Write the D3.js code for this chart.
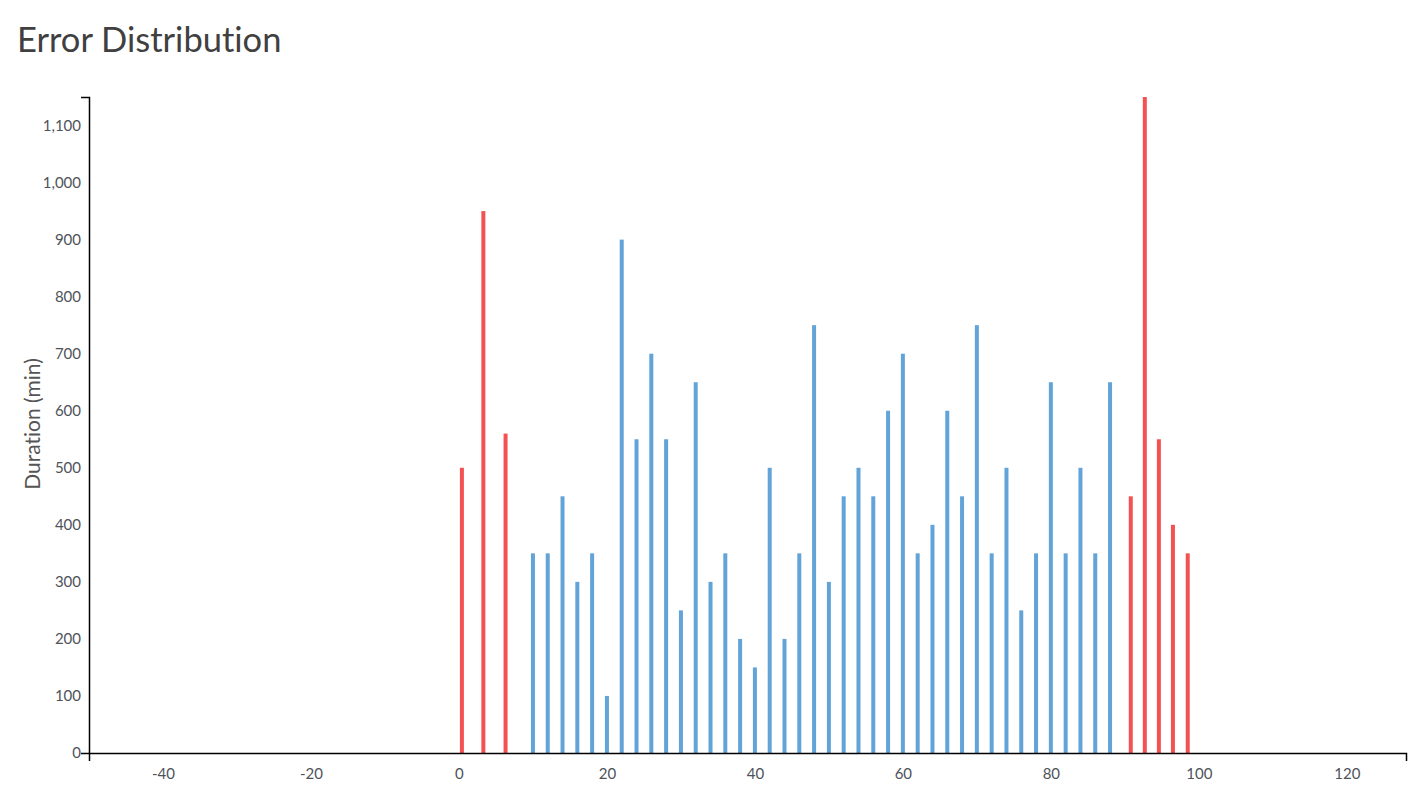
<!DOCTYPE html>
<html>
<head>
<meta charset="utf-8">
<script src="https://cdn.jsdelivr.net/npm/d3@7"></script>
<style>
  html, body { margin: 0; padding: 0; background: #fff; }
  svg { display: block; font-family: Lato, "Open Sans", sans-serif; font-variant-ligatures: none; }
</style>
</head>
<body>
<svg id="chart" width="1423" height="791"></svg>
<script>
// ---- data ----
const xTicks = [-40, -20, 0, 20, 40, 60, 80, 100, 120];
const yTicks = [0, 100, 200, 300, 400, 500, 600, 700, 800, 900, 1000, 1100];

const blueX = [10, 12, 14, 16, 18, 20, 22, 24, 26, 28, 30, 32, 34, 36, 38, 40, 42, 44, 46, 48,
               50, 52, 54, 56, 58, 60, 62, 64, 66, 68, 70, 72, 74, 76, 78, 80, 82, 84, 86, 88];
const blueY = [350, 350, 450, 300, 350, 100, 900, 550, 700, 550, 250, 650, 300, 350, 200, 150, 500, 200, 350, 750,
               300, 450, 500, 450, 600, 700, 350, 400, 600, 450, 750, 350, 500, 250, 350, 650, 350, 500, 350, 650];

const redX = [0.4, 3.3, 6.3, 90.8, 92.7, 94.6, 96.5, 98.5];
const redY = [500, 950, 560, 450, 1150, 550, 400, 350];

// ---- layout ----
const svg = d3.select("#chart");
const mLeft = 89, mRight = 1406, mTop = 97, mBottom = 753;

const x = d3.scaleLinear().domain([-50, 128]).range([mLeft, mRight]);
const y = d3.scaleLinear().domain([0, 1150]).range([mBottom, mTop]);

svg.append("text")
  .attr("x", 17).attr("y", 52)
  .attr("font-size", 34.5)
  .attr("fill", "#404040")
  .text("Error Distribution");

svg.append("text")
  .attr("transform", "translate(40," + 424 + ") rotate(-90)")
  .attr("text-anchor", "middle")
  .attr("font-size", 21)
  .attr("fill", "#555")
  .text("Duration (min)");

const barW = 4;
const bars = svg.append("g");
bars.selectAll("rect.blue")
  .data(blueX.map((v, i) => [v, blueY[i]]))
  .join("rect")
  .attr("class", "blue")
  .attr("x", d => x(d[0]) - barW / 2)
  .attr("width", barW)
  .attr("y", d => y(d[1]))
  .attr("height", d => y(0) - y(d[1]))
  .attr("fill", "#62a3d8");

bars.selectAll("rect.red")
  .data(redX.map((v, i) => [v, redY[i]]))
  .join("rect")
  .attr("class", "red")
  .attr("x", d => x(d[0]) - barW / 2)
  .attr("width", barW)
  .attr("y", d => y(d[1]))
  .attr("height", d => y(0) - y(d[1]))
  .attr("fill", "#f45252");

const fmt = d => d3.format(",")(d).replace("\u2212", "-");

const xAxis = svg.append("g")
  .attr("transform", "translate(0," + mBottom + ")")
  .call(d3.axisBottom(x).tickValues(xTicks).tickFormat(fmt).tickSizeInner(0).tickSizeOuter(8).tickPadding(15));

const yAxis = svg.append("g")
  .attr("transform", "translate(" + mLeft + ",0)")
  .call(d3.axisLeft(y).tickValues(yTicks).tickFormat(fmt).tickSizeInner(0).tickSizeOuter(8).tickPadding(8));

[xAxis, yAxis].forEach(g => {
  g.attr("font-family", "Lato, 'Open Sans', sans-serif").attr("font-size", 15);
  g.selectAll(".domain").attr("stroke", "#000").attr("stroke-width", 1.5);
  g.selectAll("text").attr("fill", "#4d5359");
});
</script>
</body>
</html>
